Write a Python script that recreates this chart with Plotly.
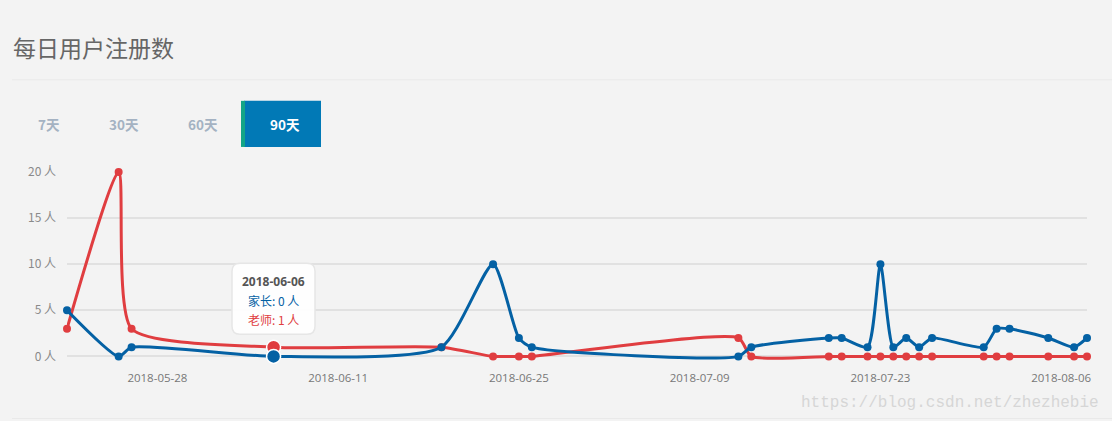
import plotly.graph_objects as go

# ---- data ----
dates = ["2018-05-21", "2018-05-25", "2018-05-26", "2018-06-06", "2018-06-19",
         "2018-06-23", "2018-06-25", "2018-06-26", "2018-07-12", "2018-07-13",
         "2018-07-19", "2018-07-20", "2018-07-22", "2018-07-23", "2018-07-24",
         "2018-07-25", "2018-07-26", "2018-07-27", "2018-07-31", "2018-08-01",
         "2018-08-02", "2018-08-05", "2018-08-07", "2018-08-08"]
parents = [5, 0, 1, 0, 1, 10, 2, 1, 0, 1, 2, 2, 1, 10, 1, 2, 1, 2, 1, 3, 3, 2, 1, 2]
teachers = [3, 20, 3, 1, 1, 0, 0, 0, 2, 0, 0, 0, 0, 0, 0, 0, 0, 0, 0, 0, 0, 0, 0, 0]
series_names = ["家长", "老师"]
x_ticks = ["2018-05-28", "2018-06-11", "2018-06-25", "2018-07-09", "2018-07-23", "2018-08-06"]
y_ticks = [0, 5, 10, 15, 20]
y_unit = "人"
tabs = ["7天", "30天", "60天", "90天"]
title_text = "每日用户注册数"
highlight_index = 3
watermark = "https://blog.csdn.net/zhezhebie"

BLUE = "#0461a4"
RED = "#e03d40"
BG = "#f3f3f3"

W, H = 1112, 421
Y_LO, Y_HI = -0.5, 20
L, R, T = 67, 25, 172
Y0_PX = 356                     # pixel row of value 0
UNIT = (Y0_PX - T) / Y_HI       # px per unit
B = H - (Y0_PX - Y_LO * UNIT)
PW, PH = W - L - R, H - T - B


def px(x):
    return (x - L) / PW


def py(y):
    return (H - B - y) / PH


fig = go.Figure()
for name, vals, col in [(series_names[1], teachers, RED), (series_names[0], parents, BLUE)]:
    fig.add_trace(go.Scatter(
        x=dates, y=vals, name=name, mode="lines+markers",
        line=dict(color=col, width=3, shape="spline", smoothing=0.6),
        marker=dict(color=col, size=8, line=dict(color=col, width=0)),
        cliponaxis=False, hoverinfo="skip",
    ))

# highlighted point (tooltip position)
for vals, col in [(teachers, RED), (parents, BLUE)]:
    fig.add_trace(go.Scatter(
        x=[dates[highlight_index]], y=[vals[highlight_index]], mode="markers",
        marker=dict(color=col, size=14, line=dict(color="white", width=1.5)),
        cliponaxis=False, hoverinfo="skip", showlegend=False,
    ))

shapes = []
annotations = []

# title
annotations.append(dict(x=px(11), y=py(47), xref="paper", yref="paper", text=title_text,
                        showarrow=False, xanchor="left", yanchor="middle",
                        font=dict(family="Noto Sans CJK SC", size=23, color="#666666")))
# separator lines
shapes.append(dict(type="line", xref="paper", yref="paper", x0=px(12), x1=px(1112),
                   y0=py(80), y1=py(80), line=dict(color="#e9e9e9", width=1)))
shapes.append(dict(type="line", xref="paper", yref="paper", x0=px(12), x1=px(1112),
                   y0=py(418), y1=py(418), line=dict(color="#e9e9e9", width=1)))

# tabs
tab_centers = [49, 124, 203, 285]
shapes.append(dict(type="rect", xref="paper", yref="paper", x0=px(244), x1=px(321),
                   y0=py(147), y1=py(101), fillcolor="#0179b6", line=dict(width=0), layer="below"))
shapes.append(dict(type="rect", xref="paper", yref="paper", x0=px(241), x1=px(245),
                   y0=py(147), y1=py(101), fillcolor="#13a586", line=dict(width=0), layer="below"))
for i, (t, cx) in enumerate(zip(tabs, tab_centers)):
    active = i == len(tabs) - 1
    annotations.append(dict(x=px(cx), y=py(124), xref="paper", yref="paper",
                            text="<b>%s</b>" % t, showarrow=False,
                            xanchor="center", yanchor="middle",
                            font=dict(family="Noto Sans CJK SC", size=13.5,
                                      color="#ffffff" if active else "#a4b2c2")))

# tooltip box (rounded rect)
x0, x1, y0, y1, r = 232, 315, 263, 334, 8
path = (f"M {px(x0 + r)},{py(y0)} L {px(x1 - r)},{py(y0)} Q {px(x1)},{py(y0)} {px(x1)},{py(y0 + r)} "
        f"L {px(x1)},{py(y1 - r)} Q {px(x1)},{py(y1)} {px(x1 - r)},{py(y1)} "
        f"L {px(x0 + r)},{py(y1)} Q {px(x0)},{py(y1)} {px(x0)},{py(y1 - r)} "
        f"L {px(x0)},{py(y0 + r)} Q {px(x0)},{py(y0)} {px(x0 + r)},{py(y0)} Z")
shapes.append(dict(type="path", xref="paper", yref="paper", path=path,
                   fillcolor="rgba(255,255,255,0.92)", line=dict(color="#e6e6e6", width=1.5),
                   layer="above"))
tcx = (x0 + x1) / 2
annotations.append(dict(x=px(tcx), y=py(281), xref="paper", yref="paper",
                        text="<b>%s</b>" % dates[highlight_index], showarrow=False,
                        xanchor="center", yanchor="middle",
                        font=dict(family="Open Sans", size=12, color="#555555")))
annotations.append(dict(x=px(tcx), y=py(300), xref="paper", yref="paper",
                        text="%s: %d %s" % (series_names[0], parents[highlight_index], y_unit),
                        showarrow=False, xanchor="center", yanchor="middle",
                        font=dict(family="Noto Sans CJK SC", size=12, color=BLUE)))
annotations.append(dict(x=px(tcx), y=py(319), xref="paper", yref="paper",
                        text="%s: %d %s" % (series_names[1], teachers[highlight_index], y_unit),
                        showarrow=False, xanchor="center", yanchor="middle",
                        font=dict(family="Noto Sans CJK SC", size=12, color=RED)))

# watermark
annotations.append(dict(x=px(1101), y=py(403), xref="paper", yref="paper", text=watermark,
                        showarrow=False, xanchor="right", yanchor="middle",
                        font=dict(family="Liberation Mono", size=16, color="#d6d6d6")))

fig.update_layout(
    width=W, height=H, margin=dict(l=L, r=R, t=T, b=B),
    paper_bgcolor=BG, plot_bgcolor=BG, showlegend=False,
    shapes=shapes, annotations=annotations, hovermode=False,
    xaxis=dict(type="date", range=[dates[0], dates[-1]], tickvals=x_ticks, ticktext=x_ticks,
               showgrid=False, zeroline=False, showline=False, ticks="",
               ticklabelstandoff=8,
               tickfont=dict(family="Open Sans", size=11.5, color="#777777")),
    yaxis=dict(range=[Y_LO, Y_HI], tickvals=y_ticks,
               ticktext=["%d %s" % (v, y_unit) for v in y_ticks], showgrid=True,
               gridcolor="#e1e1e1", gridwidth=2, zeroline=False, showline=False,
               ticks="", ticklabelstandoff=10,
               tickfont=dict(family="Noto Sans CJK SC", size=12, color="#8a8a8a")),
)

fig.write_html("out.html", config={"displayModeBar": False},
               post_script="document.body.style.margin='0';")
